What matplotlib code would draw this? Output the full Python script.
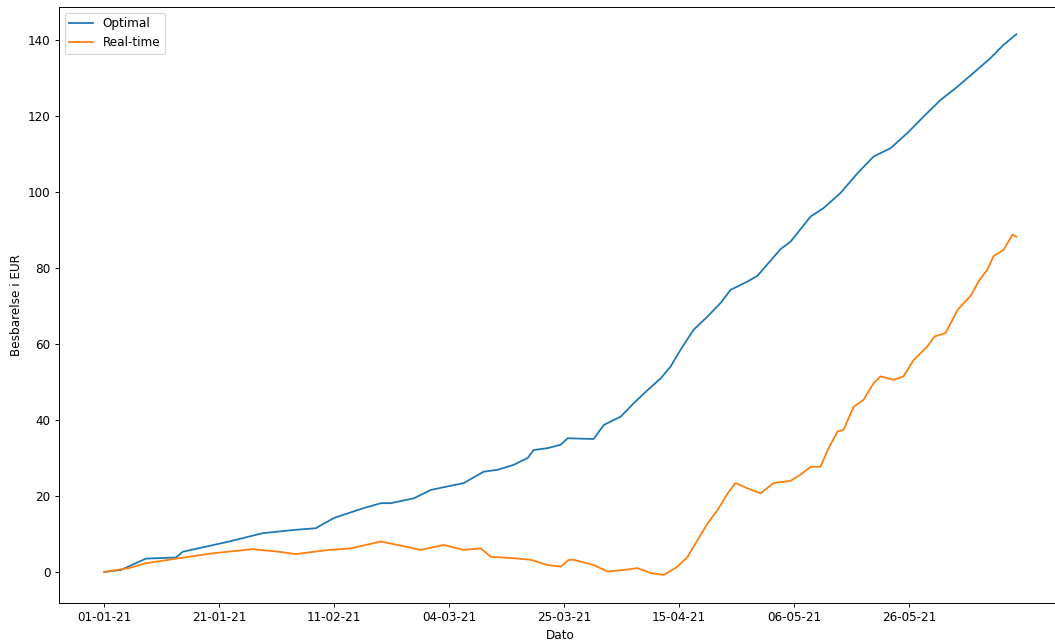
import numpy as np
import matplotlib
matplotlib.use("Agg")
import matplotlib.pyplot as plt

# hours since 01-01-21 00:00
optimal_hours = [0, 72, 181, 312, 341, 543, 689, 833, 920, 999, 1128, 1204, 1247, 1347,
                 1421, 1564, 1651, 1712, 1781, 1842, 1868, 1929, 1986, 2016, 2129, 2173,
                 2247, 2303, 2364, 2421, 2464, 2507, 2564, 2625, 2681, 2725, 2799, 2842,
                 2899, 2942, 2986, 3073, 3129, 3203, 3277, 3347, 3421, 3494, 3564, 3638,
                 3712, 3781, 3855, 3912, 3968]
optimal_eur = [0.0, 0.5, 3.5, 3.8, 5.3, 8.0, 10.2, 11.1, 11.5, 14.2, 16.8, 18.1, 18.1, 19.4,
               21.6, 23.4, 26.4, 26.9, 28.2, 30.0, 32.1, 32.6, 33.5, 35.2, 35.0, 38.7,
               40.9, 44.4, 47.9, 51.0, 54.1, 58.5, 63.8, 67.3, 70.8, 74.3, 76.5, 78.0,
               82.0, 85.0, 87.0, 93.6, 95.8, 99.8, 105.0, 109.4, 111.6, 115.6, 119.9, 124.3,
               127.8, 131.4, 135.3, 138.8, 141.6]

realtime_hours = [0, 107, 181, 325, 472, 646, 760, 833, 977, 1073, 1203, 1277, 1377, 1477,
                  1564, 1638, 1681, 1781, 1855, 1929, 1986, 2021, 2042, 2129, 2190, 2260,
                  2320, 2377, 2434, 2494, 2538, 2581, 2625, 2668, 2712, 2746, 2799, 2855,
                  2912, 2986, 3029, 3073, 3116, 3147, 3190, 3216, 3260, 3303, 3347, 3377,
                  3434, 3477, 3521, 3581, 3612, 3660, 3712, 3773, 3803, 3842, 3868, 3912,
                  3951, 3968]
realtime_eur = [0.0, 1.0, 2.3, 3.6, 4.9, 6.0, 5.3, 4.7, 5.8, 6.2, 8.0, 7.1, 5.8, 7.1,
                5.8, 6.2, 4.0, 3.6, 3.2, 1.8, 1.4, 3.2, 3.2, 1.8, 0.1, 0.5,
                1.0, -0.3, -0.8, 1.4, 4.0, 8.4, 12.8, 16.3, 20.7, 23.4, 22.0, 20.7,
                23.4, 24.0, 25.6, 27.7, 27.7, 32.1, 37.0, 37.4, 43.5, 45.3, 49.7, 51.5,
                50.6, 51.5, 55.8, 59.4, 62.0, 62.9, 69.0, 73.0, 76.5, 79.6, 83.1, 84.8,
                88.8, 88.3]

tick_hours = [0, 500, 1000, 1500, 2000, 2500, 3000, 3500]
tick_labels = ["01-01-21", "21-01-21", "11-02-21", "04-03-21",
               "25-03-21", "15-04-21", "06-05-21", "26-05-21"]

DPI = 86
fig = plt.figure(figsize=(1055 / DPI, 641 / DPI), dpi=DPI)
# the reference is cropped on the right, so the axes run a little past the edge
ax = fig.add_axes([0.0556, 0.0598, 0.951, 0.930])

ax.plot(optimal_hours, optimal_eur, label="Optimal")
ax.plot(realtime_hours, realtime_eur, label="Real-time")

ax.set_xticks(tick_hours)
ax.set_xticklabels(tick_labels)
ax.set_ylim(-8.1, 148.9)
ax.set_xlabel("Dato")
ax.set_ylabel("Besbarelse i EUR")
ax.legend(loc="upper left")

fig.savefig("out.png", dpi=DPI)
